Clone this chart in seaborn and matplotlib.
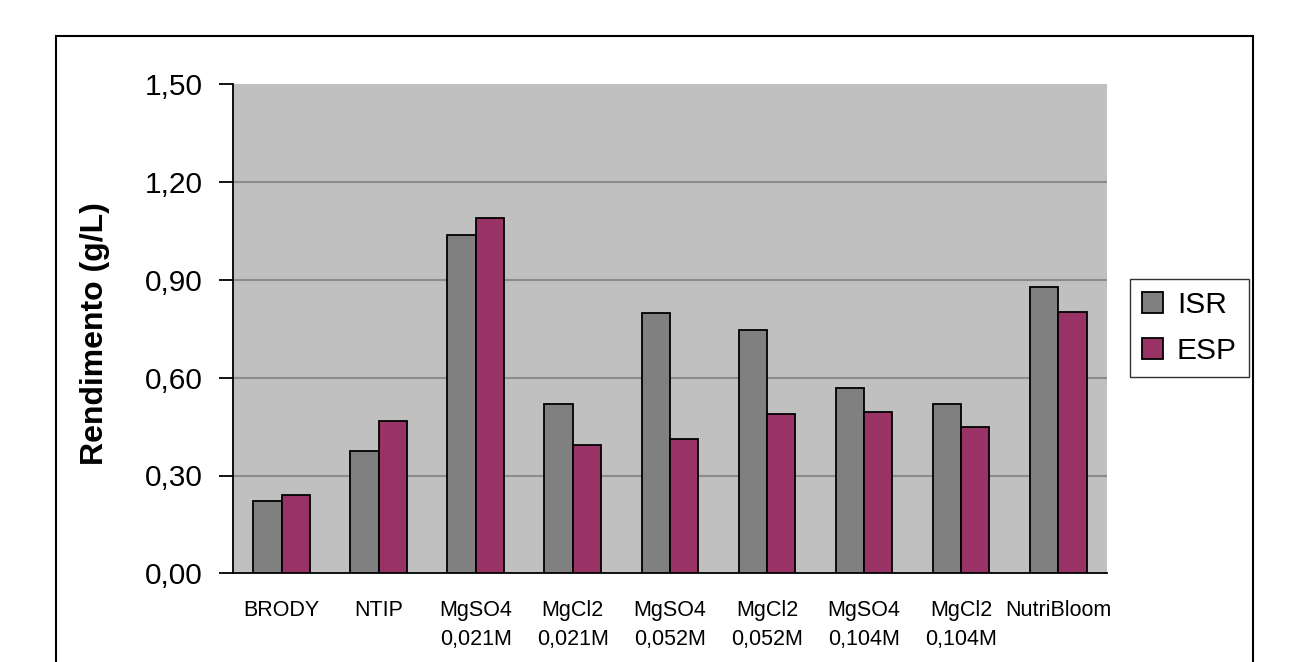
import numpy as np
import pandas as pd
import seaborn as sns
import matplotlib.pyplot as plt
from matplotlib.patches import Rectangle

# data
categorias = ['BRODY', 'NTIP', 'MgSO4\n0,021M', 'MgCl2\n0,021M', 'MgSO4\n0,052M',
              'MgCl2\n0,052M', 'MgSO4\n0,104M', 'MgCl2\n0,104M', 'NutriBloom']
isr = [0.222, 0.375, 1.038, 0.518, 0.798, 0.746, 0.568, 0.518, 0.877]
esp = [0.240, 0.467, 1.089, 0.393, 0.411, 0.490, 0.496, 0.450, 0.802]
series = ['ISR', 'ESP']
yticks = [0.0, 0.3, 0.6, 0.9, 1.2, 1.5]

df = pd.DataFrame({'categoria': categorias * 2,
                   'serie': ['ISR'] * len(isr) + ['ESP'] * len(esp),
                   'valor': isr + esp})

sns.set_style('white')
plt.rcParams['font.family'] = ['Liberation Sans', 'DejaVu Sans']
plt.rcParams['text.color'] = 'black'
plt.rcParams['xtick.color'] = 'black'
plt.rcParams['ytick.color'] = 'black'
plt.rcParams['axes.labelcolor'] = 'black'

fig = plt.figure(figsize=(12.96, 6.62), dpi=100)
ax = fig.add_axes([233/1296, 1 - 573.3/662, (1106.7-233)/1296, (573.3-84.3)/662])
ax.set_facecolor('#c0c0c0')

sns.barplot(data=df, x='categoria', y='valor', hue='serie', hue_order=series,
            palette={'ISR': '#808080', 'ESP': '#993366'}, saturation=1, width=0.584,
            edgecolor='black', linewidth=1.3, ax=ax, zorder=3)

ax.set_ylim(0, 1.5)
ax.set_xlim(-0.5, len(categorias) - 0.5)
ax.set_yticks(yticks)
ax.set_yticklabels([f'{v:.2f}'.replace('.', ',') for v in yticks], fontsize=21.5)
for v in yticks[1:-1]:
    ax.axhline(v, color='#8c8c8c', lw=1.5, zorder=1)

ax.set_xticks(range(len(categorias)))
ax.set_xticklabels(categorias, fontsize=15.5)
for t in ax.get_xticklabels():
    t.set_linespacing(1.55)
    t.set_verticalalignment('top')
ax.set_xticks(np.arange(-0.5, len(categorias)), minor=True)
ax.tick_params(axis='x', which='major', length=0, pad=19)
ax.tick_params(axis='x', which='minor', length=8, width=1.3, direction='out', color='black')
ax.tick_params(axis='y', length=10, width=1.3, direction='out', color='black', pad=12, left=True)

for s in ['top', 'right']:
    ax.spines[s].set_visible(False)
for s in ['left', 'bottom']:
    ax.spines[s].set_color('black')
    ax.spines[s].set_linewidth(1.3)

ax.set_xlabel('')
ax.set_ylabel('Rendimento (g/L)', fontsize=23, fontweight='bold')
ax.yaxis.set_label_coords(-0.141, 0.49)

handles, labels = ax.get_legend_handles_labels()
ax.get_legend().remove()
fig.legend(handles, labels, loc='center left', bbox_to_anchor=(1130/1296, 1 - 328/662),
           borderaxespad=0, fontsize=21.5, frameon=True, fancybox=False, edgecolor='black',
           handlelength=0.72, handleheight=0.72, handletextpad=0.45,
           labelspacing=0.6, borderpad=0.4)

# outer chart frame (bottom edge is cut off in the original)
fig.add_artist(Rectangle((56/1296, -0.2), (1253-56)/1296, 0.2 + 1 - 36/662,
                         transform=fig.transFigure, fill=False, edgecolor='black', lw=1.5))

fig.savefig('out.png', dpi=100)
